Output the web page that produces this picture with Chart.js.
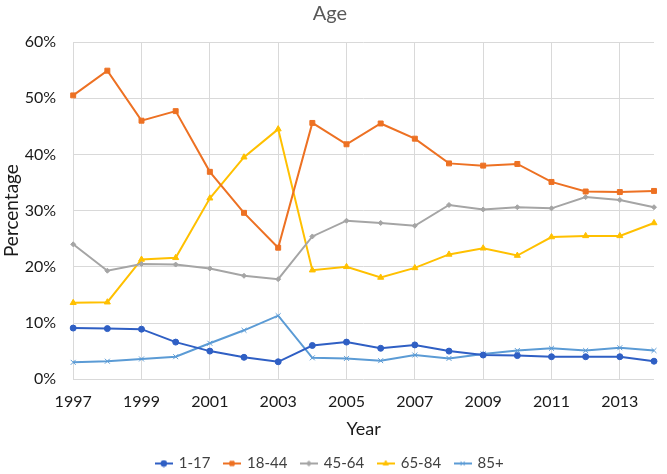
<!DOCTYPE html>
<html>
<head>
<meta charset="utf-8">
<script src="https://cdn.jsdelivr.net/npm/chart.js@4/dist/chart.umd.min.js"></script>
<style>
    html, body { margin: 0; padding: 0; background: #fff; }
    #wrap { width: 667px; height: 474px; }
</style>
</head>
<body>
<div id="wrap"><canvas id="ageChart"></canvas></div>
<script>
const years = ['1997', '1998', '1999', '2000', '2001', '2002', '2003', '2004', '2005',
    '2006', '2007', '2008', '2009', '2010', '2011', '2012', '2013', '2014'];

const age1to17 = [9.1, 9.0, 8.9, 6.6, 5.0, 3.9, 3.1, 6.0, 6.6, 5.5, 6.1, 5.0, 4.3, 4.2, 4.0, 4.0, 4.0, 3.2];
const age18to44 = [50.5, 54.9, 46.0, 47.7, 36.9, 29.6, 23.4, 45.6, 41.8, 45.5, 42.8, 38.4, 38.0, 38.3, 35.1, 33.4, 33.3, 33.5];
const age45to64 = [24.0, 19.3, 20.5, 20.4, 19.7, 18.4, 17.8, 25.4, 28.2, 27.8, 27.3, 31.0, 30.2, 30.6, 30.4, 32.4, 31.9, 30.6];
const age65to84 = [13.6, 13.7, 21.3, 21.6, 32.2, 39.5, 44.5, 19.4, 20.0, 18.1, 19.8, 22.2, 23.3, 22.0, 25.3, 25.5, 25.5, 27.8];
const age85plus = [3.0, 3.2, 3.6, 4.0, 6.4, 8.7, 11.3, 3.8, 3.7, 3.3, 4.3, 3.7, 4.5, 5.1, 5.5, 5.1, 5.6, 5.1];

const yTicks = [0, 10, 20, 30, 40, 50, 60];

const fontFamily = 'Lato, "Open Sans", sans-serif';

function series(label, data, color, shape, radius) {
    return {
        label: label,
        data: data,
        borderColor: color,
        backgroundColor: color,
        borderWidth: 2,
        pointStyle: shape,
        pointRadius: radius,
        pointBorderWidth: 1,
        pointHoverRadius: radius,
        tension: 0
    };
}

// small "line with marker" icon for the legend, like the spreadsheet legend
function legendIcon(ds) {
    const c = document.createElement('canvas');
    c.width = 18;
    c.height = 8;
    const g = c.getContext('2d');
    g.strokeStyle = ds.borderColor;
    g.lineWidth = 2;
    g.beginPath();
    g.moveTo(0, 4);
    g.lineTo(18, 4);
    g.stroke();
    g.fillStyle = ds.borderColor;
    g.lineWidth = 1;
    Chart.helpers.drawPoint(g, {
        pointStyle: ds.pointStyle,
        radius: Math.min(ds.pointRadius, 3),
        rotation: 0,
        borderWidth: 1
    }, 9, 4);
    return c;
}

document.addEventListener('DOMContentLoaded', function() {
    const ctx = document.getElementById('ageChart').getContext('2d');
    new Chart(ctx, {
        type: 'line',
        data: {
            labels: years,
            datasets: [
                series('1-17', age1to17, '#2f5fc4', 'circle', 3),
                series('18-44', age18to44, '#ed7123', 'rect', 3.5),
                series('45-64', age45to64, '#a5a5a5', 'rectRot', 2.5),
                series('65-84', age65to84, '#ffc000', 'triangle', 3.5),
                series('85+', age85plus, '#5b9bd5', 'crossRot', 3.5)
            ]
        },
        options: {
            responsive: true,
            maintainAspectRatio: false,
            animation: false,
            layout: {
                padding: { left: 0, right: 7, top: 0, bottom: -7 }
            },
            plugins: {
                title: {
                    display: true,
                    text: 'Age',
                    color: '#595959',
                    font: { family: fontFamily, size: 20, weight: 'normal' },
                    padding: { top: 2, bottom: 16 }
                },
                legend: {
                    position: 'bottom',
                    labels: {
                        color: '#404040',
                        font: { family: fontFamily, size: 15 },
                        usePointStyle: true,
                        boxWidth: 15,
                        boxHeight: 5,
                        padding: 14,
                        generateLabels: function(chart) {
                            return chart.data.datasets.map((ds, i) => ({
                                text: ds.label,
                                datasetIndex: i,
                                pointStyle: legendIcon(ds),
                                fillStyle: ds.borderColor,
                                strokeStyle: ds.borderColor,
                                fontColor: '#404040',
                                lineWidth: 0,
                                hidden: false
                            }));
                        }
                    }
                },
                tooltip: { enabled: false }
            },
            scales: {
                x: {
                    offset: false,
                    title: {
                        display: true,
                        text: 'Year',
                        color: '#1a1a1a',
                        font: { family: fontFamily, size: 18 },
                        padding: { top: -6, bottom: 2 }
                    },
                    ticks: {
                        autoSkip: false,
                        maxRotation: 0,
                        padding: 13,
                        color: '#1a1a1a',
                        font: { family: fontFamily, size: 16 },
                        callback: function(value, index) {
                            return index % 2 === 0 ? years[index] : '';
                        }
                    },
                    grid: {
                        color: function(c) {
                            return c.index % 2 === 0 ? '#d9d9d9' : 'rgba(0,0,0,0)';
                        },
                        drawTicks: false
                    },
                    border: { display: false }
                },
                y: {
                    min: 0,
                    max: 60,
                    afterBuildTicks: function(axis) {
                        axis.ticks = yTicks.map(v => ({ value: v }));
                    },
                    title: {
                        display: true,
                        text: 'Percentage',
                        color: '#1a1a1a',
                        font: { family: fontFamily, size: 19 },
                        padding: { top: 0, bottom: -15 }
                    },
                    ticks: {
                        color: '#1a1a1a',
                        font: { family: fontFamily, size: 16 },
                        padding: 17,
                        callback: function(value) {
                            return value + '%';
                        }
                    },
                    grid: {
                        color: '#d9d9d9',
                        drawTicks: false
                    },
                    border: { display: false }
                }
            }
        }
    });
});
</script>
</body>
</html>
